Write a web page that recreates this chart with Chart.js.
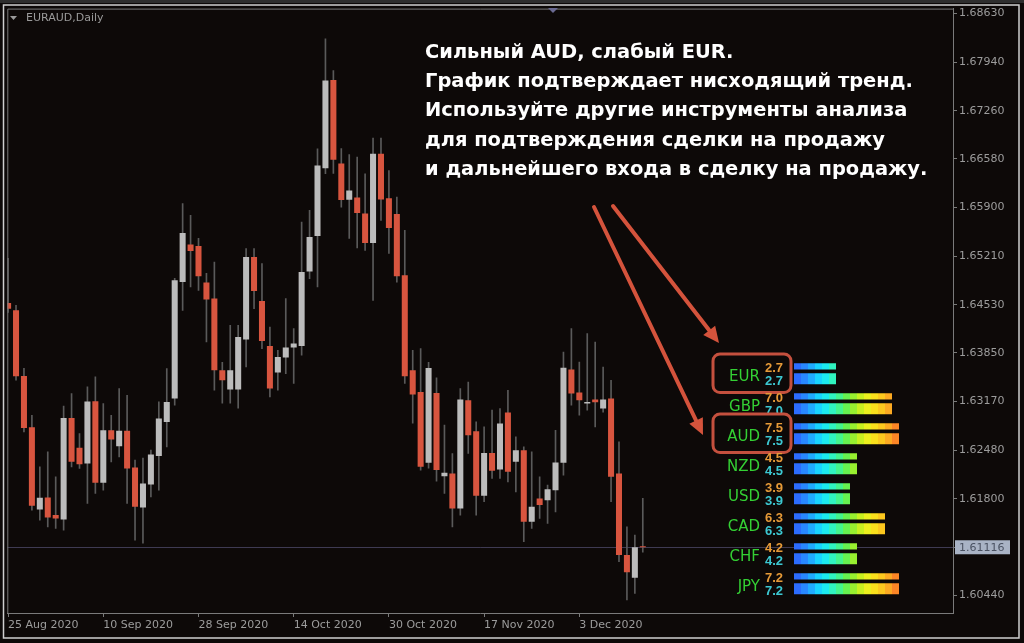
<!DOCTYPE html>
<html><head><meta charset="utf-8">
<script src="https://cdn.jsdelivr.net/npm/chart.js@4/dist/chart.umd.min.js"></script>
<style>
html,body{margin:0;padding:0;background:#0d0908;}
#wrap{position:relative;width:1024px;height:643px;overflow:hidden;}
canvas{position:absolute;left:0;top:0;}
</style></head><body>
<div id="wrap"><canvas id="main" width="1024" height="643"></canvas><canvas id="strength" width="1024" height="643"></canvas></div>
<script>
// ---- Data (EURAUD, Daily: 25 Aug 2020 .. 15 Dec 2020) ----
const opens = [1.64553,1.64450,1.63527,1.62805,1.61649,1.61817,1.61569,1.61508,1.62936,1.62515,
1.62295,1.63171,1.62023,1.62763,1.62538,1.62754,1.62239,1.61677,1.62000,1.62402,
1.62880,1.63209,1.64848,1.65378,1.65354,1.64840,1.64615,1.63607,1.63336,1.63336,
1.64038,1.65199,1.64581,1.63948,1.63574,1.63785,1.63926,1.63948,1.64998,1.65495,
1.66451,1.67693,1.66517,1.66006,1.66039,1.65814,1.65399,1.66653,1.66029,1.65804,
1.64942,1.63607,1.63302,1.62304,1.63288,1.62117,1.62155,1.61663,1.63185,1.62749,
1.61840,1.62444,1.62211,1.63012,1.62318,1.62482,1.61474,1.61803,1.61779,1.61920,
1.62304,1.63617,1.63293,1.63139,1.63195,1.63068,1.63209,1.62155,1.61006,1.60687,1.61125];
const highs = [1.65181,1.64521,1.63635,1.62974,1.62248,1.62458,1.62107,1.63101,1.63279,1.62717,
1.63372,1.63513,1.63139,1.62974,1.63350,1.63255,1.62342,1.62370,1.62482,1.63161,
1.63631,1.64900,1.65954,1.65786,1.65462,1.64970,1.65129,1.63719,1.64239,1.64239,
1.65318,1.65318,1.65107,1.64215,1.63888,1.64615,1.64193,1.65691,1.65856,1.66723,
1.68269,1.67824,1.66727,1.66643,1.66605,1.66372,1.66875,1.66875,1.66418,1.66043,
1.65575,1.63888,1.63912,1.63719,1.63501,1.62834,1.62436,1.63350,1.63442,1.62880,
1.62810,1.63045,1.63068,1.63326,1.62669,1.62529,1.62458,1.62107,1.61990,1.62763,
1.63864,1.64193,1.63723,1.64123,1.64005,1.63653,1.63466,1.62599,1.61404,1.61287,1.61803];
const lows = [1.64422,1.63466,1.62739,1.61639,1.61498,1.61404,1.61382,1.61358,1.62248,1.62225,
1.61733,1.61874,1.61920,1.62318,1.62388,1.61733,1.61217,1.61175,1.61826,1.61920,
1.62529,1.63115,1.64450,1.64778,1.64731,1.64005,1.63326,1.63143,1.63143,1.63073,
1.63653,1.64474,1.63912,1.63232,1.63326,1.63560,1.63420,1.63818,1.64896,1.64778,
1.66372,1.66376,1.65902,1.65462,1.65329,1.65294,1.64591,1.65715,1.65251,1.64848,
1.63420,1.62862,1.62201,1.62229,1.62047,1.61874,1.61404,1.61569,1.62436,1.61569,
1.61756,1.62084,1.62084,1.62037,1.61896,1.61193,1.61382,1.61522,1.61452,1.61615,
1.62131,1.63115,1.62974,1.63045,1.62810,1.63017,1.61756,1.60912,1.60374,1.60468,1.61048];
const closes = [1.64474,1.63522,1.62796,1.61699,1.61812,1.61536,1.61522,1.62936,1.62318,1.62285,
1.63167,1.62023,1.62763,1.62633,1.62754,1.62225,1.61685,1.62014,1.62422,1.62928,
1.63161,1.64872,1.65537,1.65284,1.64928,1.64601,1.63607,1.63466,1.63607,1.64075,
1.65199,1.64722,1.64019,1.63350,1.63794,1.63926,1.63982,1.64989,1.65481,1.66488,
1.67683,1.66569,1.66001,1.66137,1.65821,1.65399,1.66653,1.66011,1.65607,1.64928,
1.63522,1.63265,1.62248,1.63639,1.62205,1.62163,1.61663,1.63195,1.62693,1.61840,
1.62444,1.62191,1.62858,1.62177,1.62482,1.61474,1.61685,1.61709,1.61934,1.62309,
1.63642,1.63279,1.63185,1.63161,1.63157,1.63195,1.62107,1.61006,1.60763,1.61115,1.61116];
const xTickIndex = [0,12,24,36,48,60,72];
const xTickLabels = ['25 Aug 2020','10 Sep 2020','28 Sep 2020','14 Oct 2020','30 Oct 2020','17 Nov 2020','3 Dec 2020'];
const yTicks = [1.60440,1.61116,1.61800,1.62480,1.63170,1.63850,1.64530,1.65210,1.65900,1.66580,1.67260,1.67940,1.68630];
const currentPrice = 1.61116;
const symbolTitle = 'EURAUD,Daily';

const currencies = ['EUR','GBP','AUD','NZD','USD','CAD','CHF','JPY'];
const strengthTop = [2.7,7.0,7.5,4.5,3.9,6.3,4.2,7.2];
const strengthBottom = [2.7,7.0,7.5,4.5,3.9,6.3,4.2,7.2];
const highlighted = ['EUR','AUD'];

const noteLines = ['Сильный AUD, слабый EUR.','График подтверждает нисходящий тренд.','Используйте другие инструменты анализа','для подтверждения сделки на продажу','и дальнейшего входа в сделку на продажу.'];

// ---- Styles ----
const BG = '#0d0908', BULL = '#bcbcbc', BEAR = '#d8553f', WICK = '#5a5a5a', AXIS = '#7a7a7a', LABEL = '#9c9c9c';
const ARROW = '#d4533c';
const blockColors = ['#2c6cff','#2888ff','#20acff','#18d4ff','#1ceaf0','#30f4c0','#44f48c','#66f250','#98f030','#c8f020','#ecf01e','#fae01c','#fcc81e','#fcaa22','#fc8626','#fc622a'];

const bodyData = opens.map((o,i)=>({x:i, y:[o, closes[i]]}));
const wickData = highs.map((h,i)=>({x:i, y:[lows[i], h]}));
const bodyColors = opens.map((o,i)=> closes[i] > o ? BULL : BEAR);

function arrow(ctx, x0, y0, x1, y1){
  const a = Math.atan2(y1-y0, x1-x0), L = 16, W = 7.5;
  const bx = x1 - L*Math.cos(a), by = y1 - L*Math.sin(a);
  ctx.strokeStyle = ARROW; ctx.fillStyle = ARROW; ctx.lineWidth = 4; ctx.lineCap = 'round';
  ctx.beginPath(); ctx.moveTo(x0,y0); ctx.lineTo(bx,by); ctx.stroke();
  ctx.beginPath(); ctx.moveTo(x1,y1);
  ctx.lineTo(bx + W*Math.sin(a), by - W*Math.cos(a));
  ctx.lineTo(bx - W*Math.sin(a), by + W*Math.cos(a));
  ctx.closePath(); ctx.fill();
}

const framePlugin = {
  id:'frame',
  beforeDraw(chart){
    const c = chart.ctx;
    c.save();
    c.fillStyle = BG; c.fillRect(0,0,chart.width,chart.height);
    c.fillStyle = '#2e2e2e'; c.fillRect(0,0,chart.width,3);
    c.strokeStyle = '#cfcfcf'; c.lineWidth = 1.5;
    c.strokeRect(3.5,5,1015.5,633);
    c.restore();
  },
  beforeDatasetsDraw(chart){
    const c = chart.ctx, a = chart.chartArea, y = chart.scales.y.getPixelForValue(currentPrice);
    c.save();
    c.strokeStyle = '#3e3a52'; c.lineWidth = 1;
    c.beginPath(); c.moveTo(a.left, Math.round(y)+0.5); c.lineTo(a.right, Math.round(y)+0.5); c.stroke();
    c.restore();
  },
  afterDraw(chart){
    const c = chart.ctx, a = chart.chartArea;
    c.save();
    c.strokeStyle = AXIS; c.lineWidth = 1;
    c.beginPath(); c.moveTo(a.left+0.5, a.bottom); c.lineTo(a.left+0.5, a.top+0.5); c.lineTo(a.right, a.top+0.5); c.stroke();
    const y = chart.scales.y.getPixelForValue(currentPrice);
    c.fillStyle = '#a9b3c5'; c.fillRect(955, y-7, 55, 14);
    c.fillStyle = '#4a5262'; c.font = "11px 'DejaVu Sans'"; c.textBaseline = 'middle'; c.textAlign = 'left';
    c.fillText(currentPrice.toFixed(5), 959, y+0.5);
    c.fillStyle = '#9a9a9a';
    c.beginPath(); c.moveTo(10,16); c.lineTo(17,16); c.lineTo(13.5,20); c.closePath(); c.fill();
    c.font = "11px 'DejaVu Sans'"; c.fillText(symbolTitle, 26, 18.5);
    c.fillStyle = '#6a6a92';
    c.beginPath(); c.moveTo(548,8); c.lineTo(558,8); c.lineTo(553,13); c.closePath(); c.fill();
    c.font = "bold 18px 'DejaVu Sans'";
    const w = c.measureText(noteLines[1]).width;
    const fs = 18 * 488 / w;
    c.font = "bold " + fs.toFixed(2) + "px 'DejaVu Sans'";
    c.fillStyle = '#ffffff'; c.textBaseline = 'alphabetic';
    noteLines.forEach((t,i)=> c.fillText(t, 425, 58 + 29.2*i));
    arrow(c, 613, 206, 719, 343);
    arrow(c, 594, 207, 703, 435);
    c.restore();
  }
};

new Chart(document.getElementById('main'), {
  type:'bar',
  data:{datasets:[
    {data: bodyData, backgroundColor: bodyColors, grouped:false, categoryPercentage:1, barPercentage:0.76, minBarLength:1, borderWidth:0, order:0},
    {data: wickData, backgroundColor: WICK, grouped:false, barThickness:1, borderWidth:0, order:1}
  ]},
  options:{
    responsive:false, animation:false, devicePixelRatio:1,
    layout:{padding:{left:7.3, top:8, right:0, bottom:0}},
    plugins:{legend:{display:false}, tooltip:{enabled:false}},
    scales:{
      x:{type:'linear', min:-0.1, max:119.1, offset:false,
        afterBuildTicks: s => { s.ticks = xTickIndex.map(v=>({value:v})); },
        afterFit: s => { s.height = 30; },
        ticks:{autoSkip:false, maxRotation:0, minRotation:0, align:'start', padding:2, color:LABEL,
          font:{family:'DejaVu Sans', size:11},
          callback: v => { const k = xTickIndex.indexOf(v); return k>=0 ? xTickLabels[k] : ''; }},
        grid:{display:true, offset:false, drawOnChartArea:false, drawTicks:true, tickLength:4, color:AXIS},
        border:{display:true, color:AXIS}
      },
      y:{type:'linear', position:'right', min:1.60191, max:1.68696, beginAtZero:false,
        afterBuildTicks: s => { s.ticks = yTicks.map(v=>({value:v})); },
        afterFit: s => { s.width = 71; },
        ticks:{padding:2, color:LABEL, font:{family:'DejaVu Sans', size:11},
          callback: v => Math.abs(v-currentPrice) < 1e-9 ? '' : v.toFixed(5)},
        grid:{display:true, drawOnChartArea:false, drawTicks:true, tickLength:4, color:AXIS},
        border:{display:true, color:AXIS}
      }
    }
  },
  plugins:[framePlugin]
});

// ---- Currency strength panel ----
function blockGradient(ctx){
  const chart = ctx.chart, xs = chart.scales && chart.scales.x;
  if(!xs) return blockColors[0];
  const x0 = xs.getPixelForValue(0), x1 = xs.getPixelForValue(8);
  if(!isFinite(x0) || !isFinite(x1) || x1 <= x0) return blockColors[0];
  const g = chart.ctx.createLinearGradient(x0,0,x1,0);
  const n = blockColors.length;
  blockColors.forEach((col,k)=>{ g.addColorStop(k/n, col); g.addColorStop(Math.min(1,(k+1)/n - 0.0005), col); });
  return g;
}
const toBlocks = v => Math.ceil(v*2)/2;

const strengthLabels = {
  id:'strengthLabels',
  afterDatasetsDraw(chart){
    const c = chart.ctx, ys = chart.scales.y;
    c.save();
    currencies.forEach((cur,i)=>{
      const cy = ys.getPixelForValue(i);
      c.textBaseline = 'middle';
      c.textAlign = 'right'; c.fillStyle = '#34d034'; c.font = "15px 'DejaVu Sans'";
      c.fillText(cur, 760, cy+4.8);
      c.textAlign = 'left'; c.font = "bold 13px 'Liberation Sans'";
      c.fillStyle = '#e69a38'; c.fillText(strengthTop[i].toFixed(1), 765, cy-4.2);
      c.fillStyle = '#3cc8d2'; c.fillText(strengthBottom[i].toFixed(1), 765, cy+8.6);
      if(highlighted.includes(cur)){
        c.strokeStyle = '#c4503e'; c.lineWidth = 3;
        c.beginPath(); c.roundRect(713, cy-18.5, 78, 38.5, 7); c.stroke();
      }
    });
    c.restore();
  }
};

const strengthChart = new Chart(document.getElementById('strength'), {
  type:'bar',
  data:{labels: currencies, datasets:[
    {data: strengthTop.map(toBlocks), backgroundColor: blockGradient, categoryPercentage:0.8333, barPercentage:0.5, borderWidth:0},
    {data: strengthBottom.map(toBlocks), backgroundColor: blockGradient, categoryPercentage:0.8333, barPercentage:0.88, borderWidth:0}
  ]},
  options:{
    indexAxis:'y', responsive:false, animation:false, devicePixelRatio:1,
    layout:{padding:{left:794, right:104, top:357.5, bottom:45.5}},
    scales:{x:{display:false, min:0, max:9}, y:{display:false}},
    plugins:{legend:{display:false}, tooltip:{enabled:false}}
  },
  plugins:[strengthLabels]
});
strengthChart.update('none');
</script>
</body></html>
